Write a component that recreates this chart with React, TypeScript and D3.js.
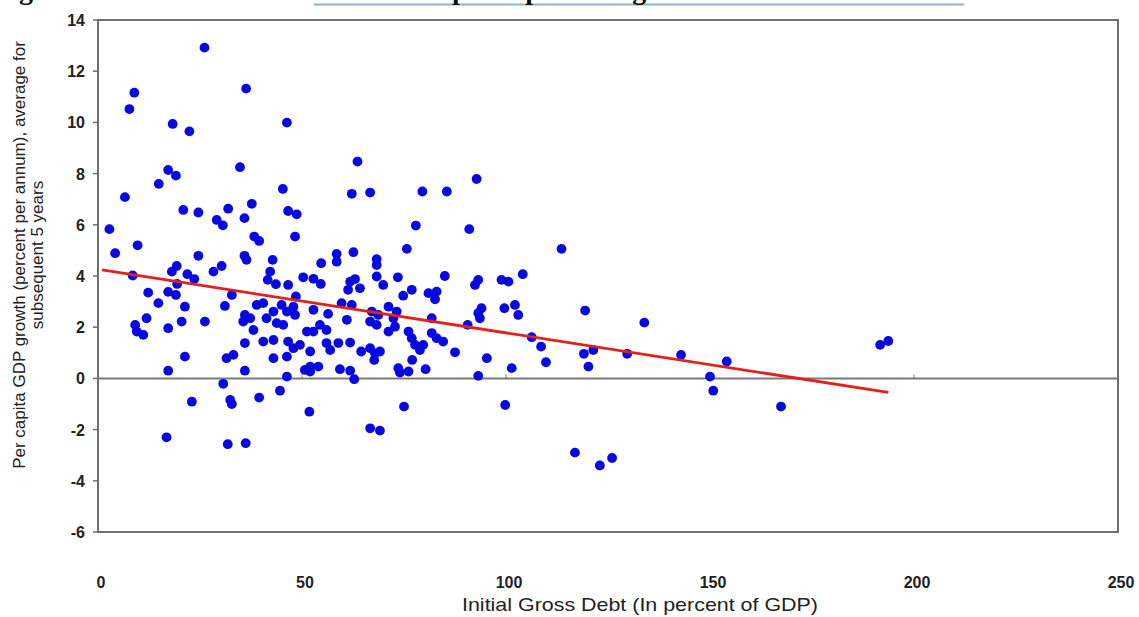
import React from 'react';
import * as d3 from 'd3';

// initial gross debt (% of GDP) and subsequent 5-year per capita growth, point by point
const debt = [
  26.1, 8.9, 7.7, 36.3, 18.3, 22.4, 46.3,
  17.2, 19.1, 34.8, 14.9, 45.3, 6.6, 20.9, 24.6, 37.7, 31.9, 29.1, 30.6, 35.9, 46.6, 48.7,
  2.8, 38.3, 39.5, 48.3, 4.2, 9.7, 24.6, 35.9, 36.4, 42.8, 58.5, 54.7, 19.3, 18.1, 8.5,
  21.9, 23.6, 28.3, 30.3, 42.2, 41.6, 43.6, 46.6, 50.3, 52.8, 54.6, 58.5, 19.4, 12.3, 17.2,
  19.1, 32.8, 48.5,
  63.6, 92.8, 62.2, 66.7, 79.5, 85.5, 77.9, 91.0, 113.6, 75.7, 62.6, 68.3, 68.3, 61.8, 63.0,
  64.2, 61.3, 68.3, 69.9, 73.5, 76.9, 74.8, 81.0, 83.0, 82.6, 85.0, 93.2, 92.4, 98.9, 100.6, 104.1,
  14.8, 21.3, 31.1, 11.9, 9.1, 9.5, 11.1, 17.2, 20.5, 26.2, 36.0, 35.6, 37.3, 38.9, 40.5,
  43.0, 41.3, 43.8, 45.4, 46.3, 48.3, 38.1, 45.0, 47.9, 52.8, 56.4, 51.2, 52.8, 54.4, 56.0,
  36.0, 40.5, 43.0, 46.6, 47.9, 49.5, 52.0, 56.0, 56.9, 21.3, 31.5, 33.2, 43.0, 46.3, 17.2,
  36.0, 50.7, 52.0, 54.0, 52.0, 46.3, 30.7, 44.6, 23.0, 32.4, 32.8, 39.5, 51.8, 16.8, 31.8, 36.2,
  59.7, 62.2, 61.0, 67.1, 68.7, 71.2, 73.2, 72.4, 66.7, 68.3, 71.2, 72.8, 76.1, 76.9, 77.7,
  79.7, 78.9, 81.8, 81.8, 83.0, 84.6, 58.9, 61.8, 64.5, 66.7, 67.9, 69.1, 67.7, 87.5, 77.0,
  59.3, 61.8, 62.8, 73.6, 74.0, 76.1, 80.3, 93.2, 95.3, 101.4, 90.6, 93.2, 94.0, 93.6, 99.6,
  102.2, 103.0, 106.3, 108.6, 109.8, 75.0, 99.8, 66.7, 69.1, 116.9,
  119.4, 133.9, 119.1, 121.4, 120.2, 129.7, 142.9, 154.1, 150.0, 150.8, 167.4, 191.7, 193.7,
  123.0, 126.0,
];

const growth = [
  12.92, 11.16, 10.52, 11.32, 9.94, 9.65, 9.99,
  8.14, 7.92, 8.25, 7.6, 7.4, 7.08, 6.58, 6.48, 6.82, 6.63, 6.19, 5.98, 6.26, 6.54, 6.41,
  5.83, 5.54, 5.37, 5.54, 4.89, 5.2, 4.79, 4.79, 4.63, 4.63, 4.86, 4.5, 4.39, 4.17, 4.02,
  4.07, 3.88, 4.17, 4.39, 4.17, 3.85, 3.68, 3.65, 3.95, 3.89, 3.69, 4.56, 3.69, 3.35, 3.38,
  3.26, 3.26, 3.2,
  8.47, 7.79, 7.21, 7.26, 7.3, 7.3, 5.97, 5.83, 5.06, 5.06, 4.93, 4.66, 4.43, 3.78, 3.88,
  3.52, 3.46, 3.98, 3.65, 3.95, 3.46, 3.23, 3.33, 3.39, 3.09, 4.0, 3.85, 3.65, 3.85, 3.78, 4.07,
  2.94, 2.8, 2.83, 2.35, 2.09, 1.83, 1.7, 1.96, 2.22, 2.22, 2.48, 2.22, 2.35, 2.87, 2.94,
  2.61, 2.35, 2.16, 2.09, 2.61, 2.48, 1.89, 2.87, 2.8, 2.68, 2.52, 1.83, 1.83, 2.09, 1.89,
  1.38, 1.44, 1.5, 1.44, 1.18, 1.31, 1.05, 1.38, 1.11, 0.85, 0.79, 0.92, 0.79, 0.85, 0.3,
  0.3, 0.33, 0.46, 0.46, 0.27, 0.07, -0.21, -0.48, -0.91, -0.84, -1.0, -0.75, -1.3, -2.3, -2.57, -2.53,
  2.94, 2.87, 2.29, 2.61, 2.48, 2.8, 2.61, 2.35, 2.22, 2.09, 1.83, 2.02, 1.83, 1.57, 1.31,
  1.31, 1.11, 2.35, 1.77, 1.57, 1.44, 1.38, 1.4, 1.05, 1.18, 0.98, 1.05, 0.72, 1.02, 0.72,
  0.36, 0.3, -0.03, 0.4, 0.23, 0.27, 0.36, 0.1, 0.79, 0.4, 2.09, 2.55, 2.74, 2.35, 2.74,
  2.87, 2.48, 1.61, 1.24, 0.63, -1.1, -1.04, -1.95, -2.04, -2.9,
  2.65, 2.18, 0.96, 1.11, 0.46, 0.96, 0.92, 0.66, 0.07, -0.48, -1.1, 1.31, 1.46,
  -3.4, -3.11,
];

// fitted trend line end points
const fitDebt = [1, 193.7];
const fitGrowth = [4.24, -0.55];

const xTicks = [0, 50, 100, 150, 200, 250];
const yTicks = [-6, -4, -2, 0, 2, 4, 6, 8, 10, 12, 14];

const W = 1139;
const H = 617;
const sans = "'Liberation Sans Narrow', 'Arial Narrow', 'Liberation Sans', Arial, sans-serif";
const serif = "'Liberation Serif', 'Times New Roman', serif";

export default function App() {
  const x = d3.scaleLinear().domain([0, 250]).range([98, 1118]);
  const y = d3.scaleLinear().domain([-6, 14]).range([532, 20]);
  const line = d3.line<number>().x((d) => x(fitDebt[d])).y((d) => y(fitGrowth[d]));

  return (
    <div style={{ position: 'absolute', left: 0, top: 0 }}>
      <svg width={W} height={H} style={{ display: 'block', background: '#fff' }}>
        {/* caption of the page, cut off by the top edge */}
        <text x={-6} y={-1} fontFamily={serif} fontWeight="bold" fontSize={28} fill="#111">
          Figure 1.
        </text>
        <line x1={314} x2={964} y1={4.5} y2={4.5} stroke="#93b2cc" strokeWidth={2} />
        <text x={452} y={-1} fontFamily={serif} fontWeight="bold" fontSize={28} fill="#111">
          per capita real growth
        </text>

        {/* plot frame */}
        <rect x={x(0)} y={y(14)} width={x(250) - x(0)} height={y(-6) - y(14)} fill="none" stroke="#6f6f6f" strokeWidth={2} />

        {/* y ticks and labels */}
        {yTicks.map((t) => (
          <g key={t}>
            <line x1={x(0) - 5} x2={x(0)} y1={y(t)} y2={y(t)} stroke="#6f6f6f" strokeWidth={1.5} />
            <text x={85} y={y(t) + 6} textAnchor="end" fontFamily={sans} fontWeight="bold" fontSize={16} fill="#222">
              {t}
            </text>
          </g>
        ))}

        {/* zero line with small ticks */}
        <line x1={x(0)} x2={x(250)} y1={y(0)} y2={y(0)} stroke="#7a7a7a" strokeWidth={2} />
        {xTicks.map((t) => (
          <line key={'t' + t} x1={x(t)} x2={x(t)} y1={y(0) - 4} y2={y(0)} stroke="#7a7a7a" strokeWidth={1} />
        ))}

        {/* x labels */}
        {xTicks.map((t) => (
          <text key={'l' + t} x={x(t) + 3} y={588} textAnchor="middle" fontFamily={sans} fontWeight="bold" fontSize={16} fill="#222">
            {t}
          </text>
        ))}

        {/* points */}
        {debt.map((d, i) => (
          <circle key={i} cx={x(d)} cy={y(growth[i])} r={4.9} fill="#0808e0" />
        ))}

        {/* trend line */}
        <path d={line([0, 1]) || ''} fill="none" stroke="#e4201a" strokeWidth={2.8} />

        {/* axis titles */}
        <text x={640} y={611} textAnchor="middle" fontFamily={sans} fontSize={19} fill="#222"
          textLength={356} lengthAdjust="spacingAndGlyphs">
          Initial Gross Debt (In percent of GDP)
        </text>
        <g transform={`translate(25, 255) rotate(-90)`}>
          <text x={0} y={0} textAnchor="middle" fontFamily={sans} fontSize={17} fill="#222">
            Per capita GDP growth (percent per annum), average for
          </text>
          <text x={0} y={18} textAnchor="middle" fontFamily={sans} fontSize={17} fill="#222">
            subsequent 5 years
          </text>
        </g>
      </svg>
    </div>
  );
}
